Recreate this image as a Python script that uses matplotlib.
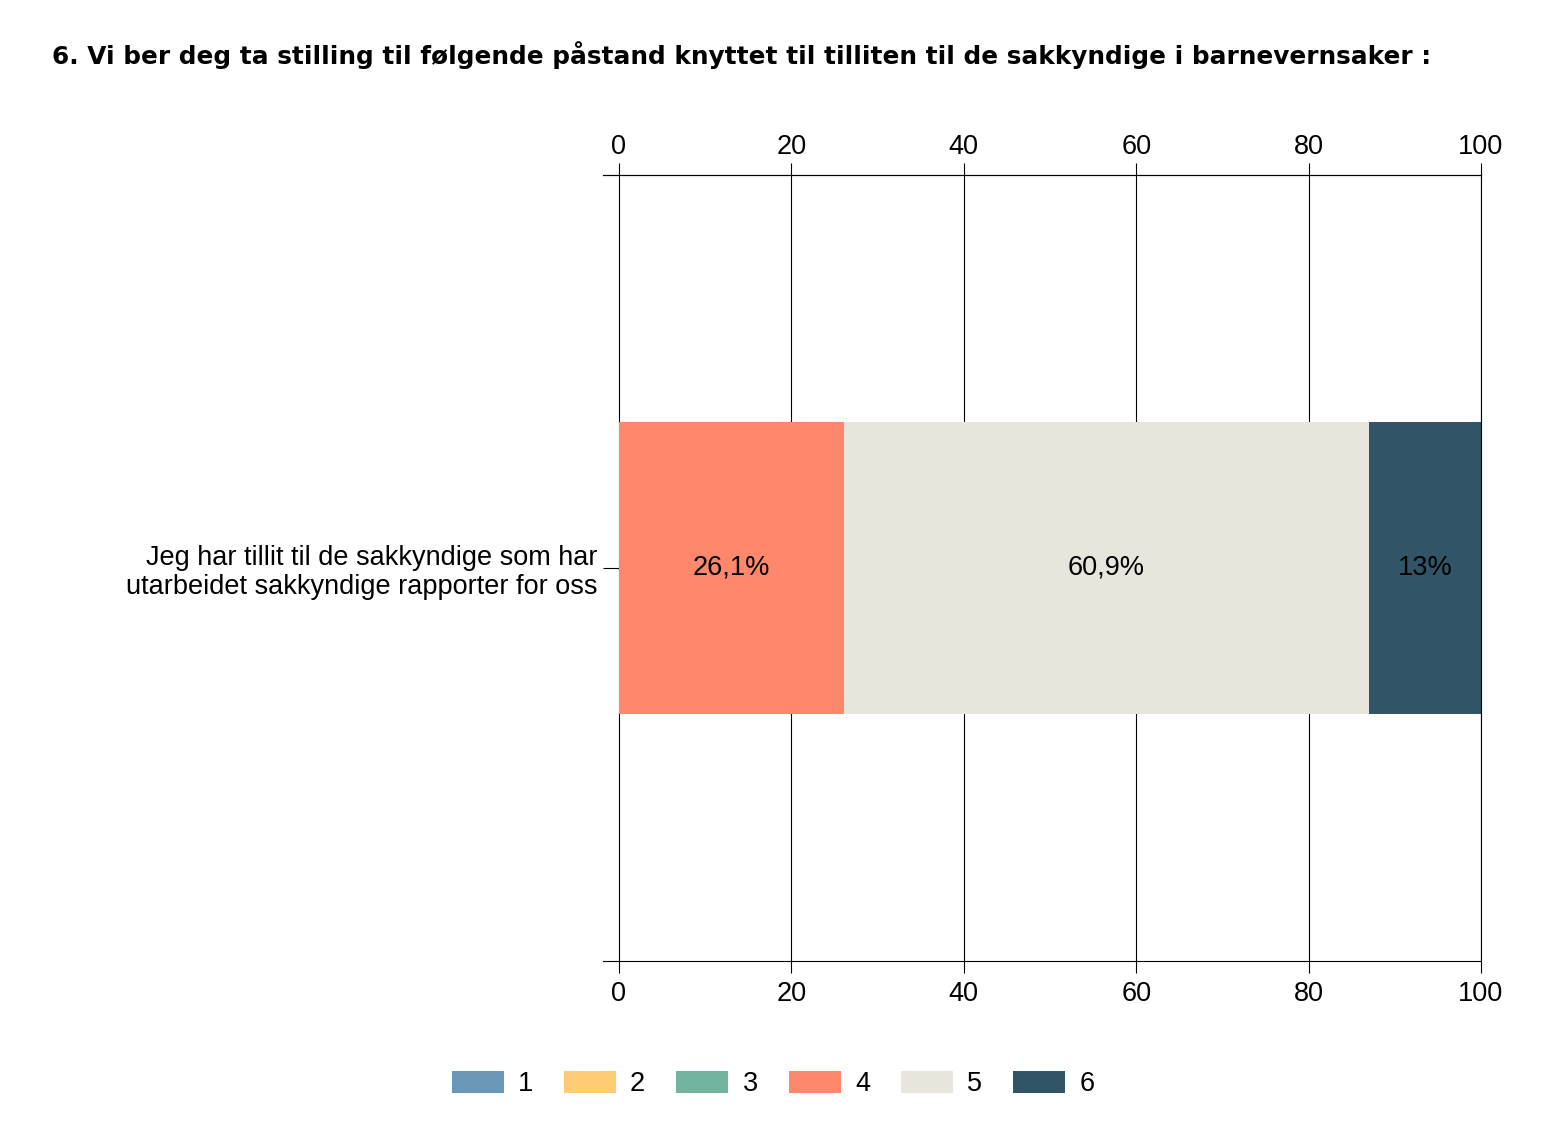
import matplotlib.pyplot as plt

category = 'Jeg har tillit til de sakkyndige som har\nutarbeidet sakkyndige rapporter for oss'
levels = ['1', '2', '3', '4', '5', '6']
shares = [0, 0, 0, 26.1, 60.9, 13]
share_labels = ['', '', '', '26,1%', '60,9%', '13%']
colors = ['#6b98b8', '#ffcb74', '#72b4a0', '#ff876c', '#e8e5dd', '#315567']
ticks = [0, 20, 40, 60, 80, 100]

title = '6. Vi ber deg ta stilling til følgende påstand knyttet til tilliten til de sakkyndige i barnevernsaker :'


def do_plot():
    plt.rcParams['font.family'] = ['Liberation Sans', 'DejaVu Sans']
    W, H = 1562, 1148
    fs = 19.5
    f = plt.figure(figsize=(W / 100, H / 100), dpi=100)
    # axes spans 603..1481 px horizontally (spine overhangs 0 by 16 px), 175..961 vertically
    ax = f.add_axes([603 / W, 1 - 961 / H, (1481 - 603) / W, (961 - 175) / H])
    ppu = (1481 - 619) / 100.0
    ax.set_xlim(-16 / ppu, 100)
    ax.set_ylim(-1, 1)

    left = 0
    for lev, val, lab, col in zip(levels, shares, share_labels, colors):
        ax.barh(0, val, left=left, height=0.7455, color=col, label=lev, zorder=3)
        if lab:
            ax.text(left + val / 2, 0, lab, ha='center', va='center', fontsize=fs, zorder=4)
        left += val

    ax.set_xticks(ticks)
    ax.grid(axis='x', color='black', linewidth=0.8, zorder=1)
    ax.set_yticks([0])
    ax.set_yticklabels([category], fontsize=fs, ha='right', linespacing=1.15)
    ax.tick_params(axis='y', direction='in', length=11.5, width=0.8, pad=4.3)
    ax.tick_params(axis='x', length=8.5, width=0.8, labelsize=fs, pad=6)
    ax.spines['left'].set_visible(False)
    for s in ['top', 'bottom', 'right']:
        ax.spines[s].set_linewidth(0.8)
        ax.spines[s].set_zorder(5)

    top = ax.secondary_xaxis('top')
    top.set_xticks(ticks)
    top.tick_params(length=8.5, width=0.8, labelsize=fs, pad=2.4)
    top.spines['top'].set_linewidth(0.8)

    f.text(52 / W, 1 - 55 / H, title, ha='left', va='center', fontsize=17.8,
           fontweight='bold', family=['DejaVu Sans'])

    f.legend(loc='center', bbox_to_anchor=(773 / W, 1 - 1084 / H), ncol=6, frameon=False,
             fontsize=fs, handlelength=1.92, handleheight=0.886, handletextpad=0.52,
             columnspacing=1.15)
    plt.savefig('out.png', dpi=100)


if __name__ == '__main__':
    do_plot()
